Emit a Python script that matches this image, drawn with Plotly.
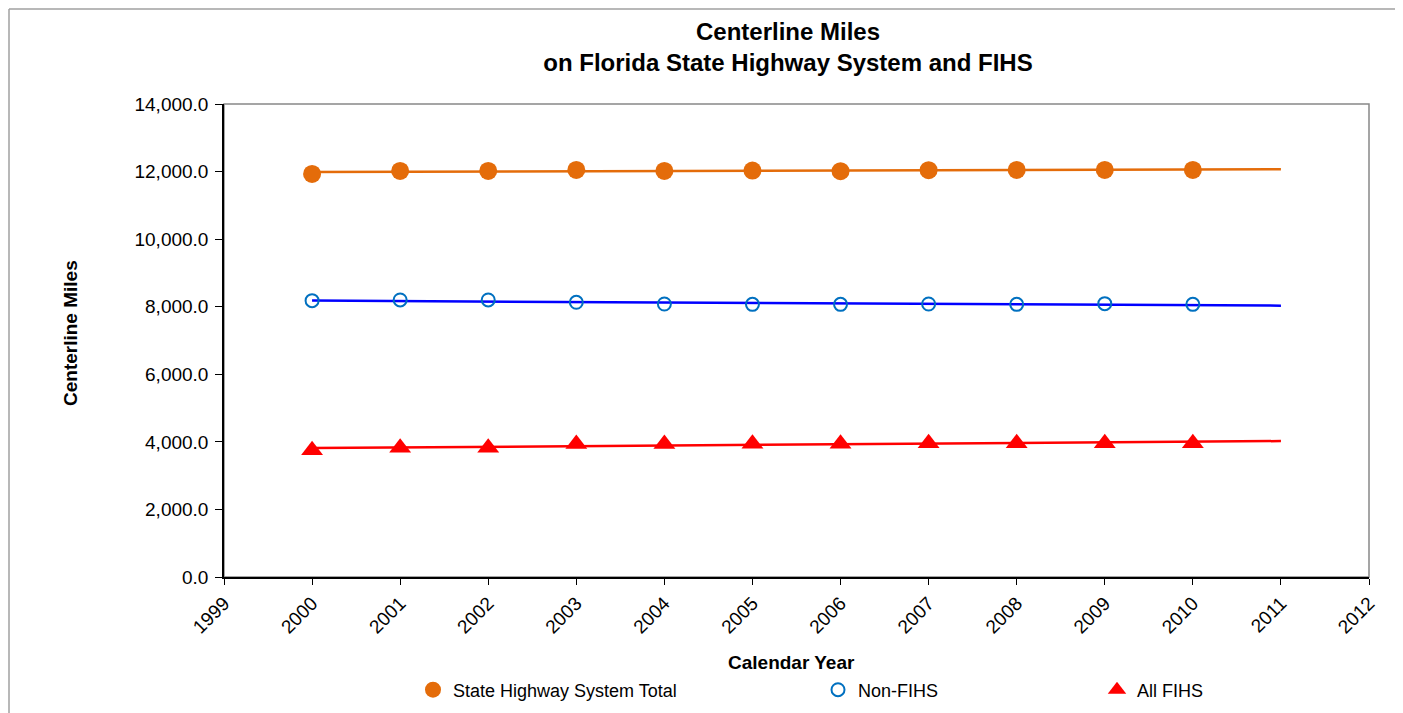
import numpy as np
import plotly.graph_objects as go

years = [2000, 2001, 2002, 2003, 2004, 2005, 2006, 2007, 2008, 2009, 2010]
state_total = [11930, 12020, 12020, 12050, 12020, 12030, 12010, 12040, 12050, 12050, 12050]
non_fihs = [8180, 8200, 8200, 8130, 8080, 8070, 8070, 8080, 8070, 8090, 8070]
all_fihs = [3748, 3828, 3828, 3935, 3935, 3947, 3947, 3962, 3962, 3962, 3962]
trend_end = 2011

FONT = "Liberation Sans, Arial, sans-serif"

orange = "#E46C0A"
blue_marker = "#0070C0"
blue_line = "#0000FF"
red = "#FF0000"

fig = go.Figure()

def trend(vals):
    c = np.polyfit(years, vals, 1)
    xs = [years[0], trend_end]
    return xs, [c[0] * x + c[1] for x in xs]

series = [
    ("State Highway System Total", state_total, orange,
     dict(symbol="circle", size=18, color=orange), "legend"),
    ("Non-FIHS", non_fihs, blue_line,
     dict(symbol="circle-open", size=13, color=blue_marker, line=dict(width=2, color=blue_marker)), "legend2"),
    ("All FIHS", all_fihs, red,
     dict(symbol="triangle-up", size=19, color=red), "legend3"),
]

for name, vals, lc, mk, lg in series:
    tx, ty = trend(vals)
    fig.add_trace(go.Scatter(x=tx, y=ty, mode="lines", line=dict(color=lc, width=2.5),
                             showlegend=False, hoverinfo="skip"))
for name, vals, lc, mk, lg in series:
    fig.add_trace(go.Scatter(x=years, y=vals, mode="markers", marker=mk, name=name, legend=lg))

OFF = 8  # page body margin
W, H = 1387, 713
L, T = 224 - OFF, 104 - OFF
R = OFF + W - 1369
B = OFF + H - 577
pw = W - L - R
ph = H - T - B

def sx(px):
    return (px - OFF - L) / pw

def sy(py):
    return (H - B - (py - OFF)) / ph

legend_common = dict(orientation="h", yanchor="middle", xanchor="left",
                     font=dict(family=FONT, size=18, color="#000"),
                     bgcolor="rgba(0,0,0,0)", itemwidth=30)

fig.update_layout(
    width=W, height=H,
    margin=dict(l=L, r=R, t=T, b=B),
    paper_bgcolor="white", plot_bgcolor="white",
    font=dict(family=FONT, color="#000"),
    title=dict(text="<b>Centerline Miles<br>on Florida State Highway System and FIHS</b>",
               x=sx(788), xref="paper", xanchor="center",
               y=1 - (40 - OFF) / H, yanchor="middle",
               font=dict(family=FONT, size=24, color="#000")),
    xaxis=dict(range=[1999, 2012], tickmode="linear", tick0=1999, dtick=1,
               tickangle=-45, ticks="outside", ticklen=6, tickcolor="#000",
               showline=True, linecolor="#000", linewidth=1.5, showgrid=False, zeroline=False,
               tickfont=dict(family=FONT, size=19, color="#000")),
    yaxis=dict(range=[0, 14000], tickmode="linear", tick0=0, dtick=2000,
               tickformat=",.1f", ticks="outside", ticklen=7, tickcolor="#000",
               ticklabelstandoff=3,
               showline=True, linecolor="#000", linewidth=1.5, showgrid=False, zeroline=False,
               tickfont=dict(family=FONT, size=19, color="#000")),
    annotations=[
        dict(text="<b>Calendar Year</b>", xref="paper", yref="paper",
             x=sx(791), y=sy(662), xanchor="center", yanchor="middle", showarrow=False,
             font=dict(family=FONT, size=19, color="#000")),
        dict(text="<b>Centerline Miles</b>", xref="paper", yref="paper", textangle=-90,
             x=sx(70), y=sy(333), xanchor="center", yanchor="middle", showarrow=False,
             font=dict(family=FONT, size=19, color="#000")),
    ],
    legend=dict(x=sx(437 - 24), y=sy(690), **legend_common),
    legend2=dict(x=sx(842 - 24), y=sy(690), **legend_common),
    legend3=dict(x=sx(1121 - 24), y=sy(690), **legend_common),
    shapes=[
        dict(type="rect", xref="paper", yref="paper", x0=0, x1=1, y0=0, y1=1,
             line=dict(color="#888888", width=1.5), layer="below"),
        dict(type="line", xref="paper", yref="paper",
             x0=sx(9), x1=sx(1420), y0=sy(9), y1=sy(9),
             line=dict(color="#A0A0A0", width=1.5), layer="below"),
        dict(type="line", xref="paper", yref="paper",
             x0=sx(9), x1=sx(9), y0=sy(9), y1=sy(760),
             line=dict(color="#A0A0A0", width=1.5), layer="below"),
    ],
)

fig.write_html("out.html")
